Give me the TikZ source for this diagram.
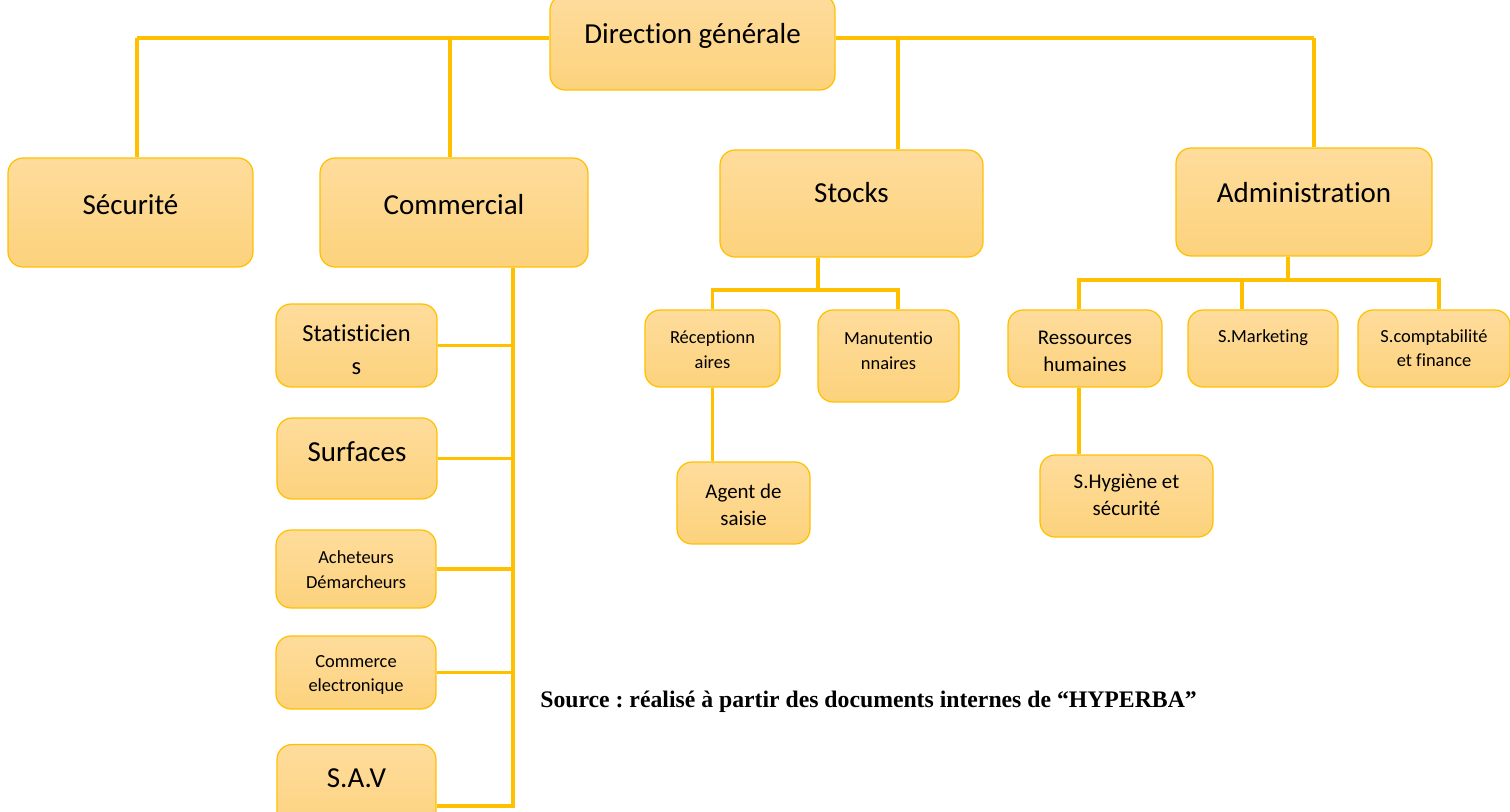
\documentclass[tikz,border=0pt]{standalone}
\usepackage{fontspec}
\setmainfont[Ligatures=NoCommon]{Carlito}
\newfontfamily\srcfont{Liberation Serif}
\usepackage{tikz}
\frenchspacing
\definecolor{ligne}{HTML}{FFC000}
\definecolor{hautbox}{HTML}{FEDC9C}
\definecolor{basbox}{HTML}{FCD27C}
\newcommand{\fgrand}{\fontsize{16.5}{21}\selectfont}
\newcommand{\fstat}{\fontsize{13.9}{18.6}\selectfont}
\newcommand{\fmoyen}{\fontsize{11.9}{15.4}\selectfont}
\newcommand{\fpetit}{\fontsize{10.5}{14}\selectfont}
\tikzset{
  boite/.style={rectangle, rounded corners=0.3cm, draw=ligne, line width=0.7pt,
    top color=hautbox, bottom color=basbox, inner sep=0pt},
  txt/.style={align=center, inner sep=0pt},
  lien/.style={draw=ligne, line width=2pt}
}
\begin{document}
\begin{tikzpicture}[x=0.02cm, y=-0.02cm]
\clip (0,0) rectangle (1510,811);
% direction generale
\node[boite, minimum width=5.7cm, minimum height=1.9cm] (dg) at (692.5,42.5) {};
\node[txt, font=\fgrand] (dgt) at (692.5,36) {Direction générale};
% niveau 1
\node[boite, minimum width=4.9cm, minimum height=2.18cm] (sec) at (130.5,212.5) {};
\node[txt, font=\fgrand] (sect) at (130.5,205) {Sécurité};
\node[boite, minimum width=5.36cm, minimum height=2.18cm] (com) at (454,212.5) {};
\node[txt, font=\fgrand] (comt) at (454,205) {Commercial};
\node[boite, minimum width=5.26cm, minimum height=2.14cm] (sto) at (851.5,203.5) {};
\node[txt, font=\fgrand] (stot) at (851.5,193) {Stocks};
\node[boite, minimum width=5.12cm, minimum height=2.16cm] (adm) at (1304,202) {};
\node[txt, font=\fgrand] (admt) at (1304,193) {Administration};
% sous le commercial
\node[boite, minimum width=3.22cm, minimum height=1.66cm] (stat) at (356.5,345.5) {};
\node[txt, font=\fstat] (statt) at (356.5,350) {Statisticien\\s};
\node[boite, minimum width=3.2cm, minimum height=1.62cm] (surf) at (357,458.5) {};
\node[txt, font=\fgrand] (surft) at (357,452) {Surfaces};
\node[boite, minimum width=3.2cm, minimum height=1.56cm] (ach) at (356,569) {};
\node[txt, font=\fpetit] (acht) at (356,569.5) {Acheteurs\\Démarcheurs};
\node[boite, minimum width=3.2cm, minimum height=1.46cm] (comm) at (356,672.5) {};
\node[txt, font=\fpetit] (commt) at (356,675) {Commerce\\electronique};
\node[boite, minimum width=3.18cm, minimum height=1.9cm] (sav) at (356.5,792) {};
\node[txt, font=\fgrand] (savt) at (356.5,778) {S.A.V};
% sous les stocks
\node[boite, minimum width=2.7cm, minimum height=1.54cm] (rec) at (712.5,348.5) {};
\node[txt, font=\fpetit] (rect) at (712.5,350) {Réceptionn\\aires};
\node[boite, minimum width=2.82cm, minimum height=1.84cm] (man) at (888.5,356) {};
\node[txt, font=\fpetit] (mant) at (888.5,351) {Manutentio\\nnaires};
\node[boite, minimum width=2.66cm, minimum height=1.64cm] (agt) at (743.5,503) {};
\node[txt, font=\fmoyen] (agtt) at (743.5,505) {Agent de\\saisie};
% sous l'administration
\node[boite, minimum width=3.08cm, minimum height=1.54cm] (rh) at (1085,348.5) {};
\node[txt, font=\fmoyen] (rht) at (1085,351) {Ressources\\humaines};
\node[boite, minimum width=3cm, minimum height=1.54cm] (mkt) at (1263,348.5) {};
\node[txt, font=\fpetit] (mktt) at (1263,338) {S.Marketing};
\node[boite, minimum width=3.04cm, minimum height=1.54cm] (cpt) at (1434,348.5) {};
\node[txt, font=\fpetit] (cptt) at (1434,348) {S.comptabilité\\et finance};
\node[boite, minimum width=3.46cm, minimum height=1.64cm] (hyg) at (1126.5,496) {};
\node[txt, font=\fmoyen] (hygt) at (1126.5,495) {S.Hygiène et\\sécurité};
% source
\node[anchor=west, inner sep=0pt, font=\srcfont\bfseries\fontsize{13.5}{16}\selectfont] (src) at (540,702)
  {Source : réalisé à partir des documents internes de “HYPERBA”};
% ligne du haut
\coordinate (tl) at (137,38);
\coordinate (tc) at (450,38);
\coordinate (ts) at (898,38);
\coordinate (ta) at (1314,38);
\draw[lien] (tl) -- (tl -| dg.west);
\draw[lien] (ta) -- (ta -| dg.east);
\draw[lien] (tl) -- (tl |- sec.north);
\draw[lien] (tc) -- (tc |- com.north);
\draw[lien] (ts) -- (ts |- sto.north);
\draw[lien] (ta) -- (ta |- adm.north);
% branche commercial
\coordinate (spine) at (513,806);
\draw[lien] (spine |- com.south) -- (spine) -- (spine -| sav.east);
\foreach \b in {stat,surf,ach,comm}
  \draw[lien] (\b.east) -- (\b.east -| spine);
% branche stocks
\coordinate (sb) at (818,290);
\coordinate (mb) at (898,290);
\draw[lien] (sb |- sto.south) -- (sb);
\draw[lien] (rec.north) |- (mb) -- (mb |- man.north);
\draw[lien] (rec.south) -- (rec.south |- agt.north);
% branche administration
\coordinate (ab) at (1288,280);
\coordinate (al) at (1079,280);
\coordinate (am) at (1242,280);
\coordinate (ar) at (1439,280);
\draw[lien] (ab |- adm.south) -- (ab);
\draw[lien] (al |- rh.north) -- (al) -- (ar) -- (ar |- cpt.north);
\draw[lien] (am) -- (am |- mkt.north);
\draw[lien] (al |- rh.south) -- (al |- hyg.north);
\end{tikzpicture}
\end{document}
